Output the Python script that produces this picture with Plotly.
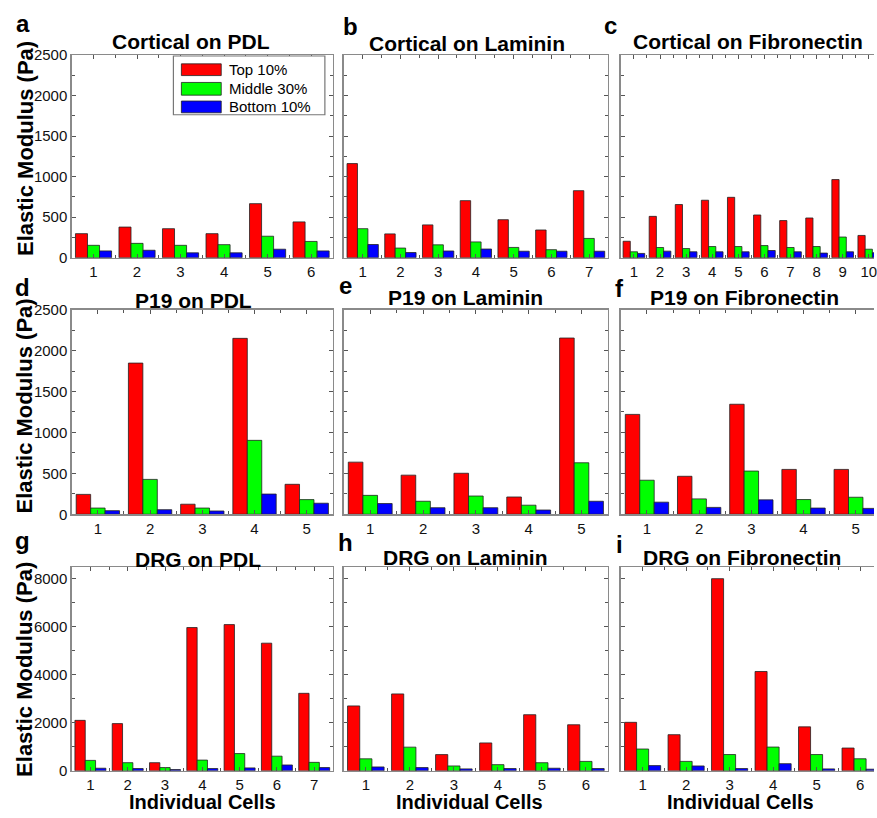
import plotly.graph_objects as go

W, H = 877, 818

# ---------------- data ----------------
series_names = ["Top 10%", "Middle 30%", "Bottom 10%"]
series_colors = ["#FF0000", "#00FF00", "#0000FF"]

panel_titles = ["Cortical on PDL", "Cortical on Laminin", "Cortical on Fibronectin",
                "P19 on PDL", "P19 on Laminin", "P19 on Fibronectin",
                "DRG on PDL", "DRG on Laminin", "DRG on Fibronectin"]
panel_letters = ["a", "b", "c", "d", "e", "f", "g", "h", "i"]

cort_pdl_top = [297, 378, 358, 297, 667, 442]
cort_pdl_mid = [153, 177, 153, 161, 265, 201]
cort_pdl_bot = [84, 92, 60, 60, 105, 84]

cort_lam_top = [1161, 294, 405, 704, 469, 342, 827]
cort_lam_mid = [358, 119, 159, 195, 127, 99, 238]
cort_lam_bot = [163, 64, 83, 107, 80, 80, 80]

cort_fib_top = [203, 510, 656, 709, 745, 527, 458, 490, 964, 275]
cort_fib_mid = [73, 126, 113, 138, 138, 150, 126, 138, 255, 105]
cort_fib_bot = [53, 81, 73, 73, 73, 89, 73, 57, 73, 61]

p19_pdl_top = [243, 1847, 123, 2149, 366]
p19_pdl_mid = [76, 426, 76, 903, 179]
p19_pdl_bot = [44, 56, 40, 247, 135]

p19_lam_top = [637, 478, 501, 211, 2153]
p19_lam_mid = [231, 159, 223, 111, 629]
p19_lam_bot = [131, 80, 80, 52, 159]

p19_fib_top = [1220, 464, 1344, 548, 548]
p19_fib_mid = [416, 188, 528, 180, 208]
p19_fib_bot = [148, 84, 176, 76, 72]

drg_pdl_top = [2102, 1966, 339, 5966, 6088, 5315, 3227]
drg_pdl_mid = [434, 339, 136, 447, 719, 610, 353]
drg_pdl_bot = [108, 95, 54, 95, 122, 244, 136]

drg_lam_top = [2702, 3202, 676, 1162, 2337, 1918]
drg_lam_mid = [500, 986, 203, 257, 338, 392]
drg_lam_bot = [162, 135, 81, 95, 108, 95]

drg_fib_top = [2020, 1505, 8000, 4136, 1831, 949]
drg_fib_mid = [908, 393, 678, 990, 678, 502]
drg_fib_bot = [217, 203, 95, 298, 81, 68]

panels = [
    (cort_pdl_top, cort_pdl_mid, cort_pdl_bot),
    (cort_lam_top, cort_lam_mid, cort_lam_bot),
    (cort_fib_top, cort_fib_mid, cort_fib_bot),
    (p19_pdl_top, p19_pdl_mid, p19_pdl_bot),
    (p19_lam_top, p19_lam_mid, p19_lam_bot),
    (p19_fib_top, p19_fib_mid, p19_fib_bot),
    (drg_pdl_top, drg_pdl_mid, drg_pdl_bot),
    (drg_lam_top, drg_lam_mid, drg_lam_bot),
    (drg_fib_top, drg_fib_mid, drg_fib_bot),
]

y_title = "Elastic Modulus (Pa)"
x_title = "Individual Cells"

# ---------------- layout geometry (pixels) ----------------
cols_px = [(72, 334), (345, 610), (623, 877)]
rows_px = [(47, 254), (307, 516), (570, 778)]
row_ymax = [2500, 2500, 8480]
row_dtick = [500, 500, 2000]
# right column is cut off by the picture edge: visible end of x range
cut_xmax = {2: 10.2, 5: 5.35, 8: 6.32}

FONT = "Liberation Sans, Arial, sans-serif"
AXC = "#8a8a8a"


def px(x):
    return x / W


def py(y):
    return 1 - y / H


fig = go.Figure()
layout = dict(
    width=W, height=H, autosize=False,
    margin=dict(l=0, r=0, t=0, b=0, pad=0),
    paper_bgcolor="white", plot_bgcolor="white",
    barmode="group", bargap=0.17, bargroupgap=0,
    showlegend=False,
    font=dict(family=FONT, color="black"),
)

annotations = []
shapes = []

for k, vals in enumerate(panels):
    r, c = divmod(k, 3)
    n = len(vals[0])
    idx = k + 1
    xa = "x" if idx == 1 else f"x{idx}"
    ya = "y" if idx == 1 else f"y{idx}"
    cats = list(range(1, n + 1))
    for s in range(3):
        fig.add_trace(go.Bar(
            x=cats, y=vals[s], name=series_names[s],
            marker=dict(color=series_colors[s], line=dict(color="#222222", width=0.8)),
            xaxis=xa, yaxis=ya, showlegend=False, hoverinfo="skip",
        ))
    l, rr = cols_px[c]
    t, b = rows_px[r]
    xr = [0.5, n + 0.5] if c < 2 else [0.5, cut_xmax[k]]
    xkey = "xaxis" if idx == 1 else f"xaxis{idx}"
    ykey = "yaxis" if idx == 1 else f"yaxis{idx}"
    layout[xkey] = dict(
        domain=[px(l), px(rr)], anchor=ya, range=xr, autorange=False,
        showline=True, linecolor=AXC, linewidth=1.5, mirror="ticks",
        ticks="inside", ticklen=4, tickcolor="#555555", tickwidth=1,
        tickmode="array", tickvals=cats, ticktext=[str(v) for v in cats],
        tickfont=dict(size=15, color="#111111", family=FONT),
        ticklabeloverflow="allow",
        showgrid=False, zeroline=False, fixedrange=True,
        minor=dict(tickmode="array", tickvals=[v + 0.5 for v in cats[:-1]],
                   ticks="inside", ticklen=3, tickcolor="#555555", showgrid=False),
    )
    layout[ykey] = dict(
        domain=[py(b), py(t)], anchor=xa, range=[0, row_ymax[r]], autorange=False,
        showline=True, linecolor=AXC, linewidth=1.5,
        mirror=("ticks" if c < 2 else False),
        ticks="inside", ticklen=4, tickcolor="#555555", tickwidth=1,
        dtick=row_dtick[r], tick0=0,
        showticklabels=(c == 0),
        tickfont=dict(size=15, color="#111111", family=FONT),
        showgrid=False, zeroline=False, fixedrange=True,
        minor=dict(dtick=row_dtick[r] / 2, ticks="inside", ticklen=3,
                   tickcolor="#555555", showgrid=False),
    )

# panel titles
title_pos = [(192, 33), (469, 35), (751, 33),
             (194, 298), (467, 295), (747, 295),
             (199, 562), (467, 560), (745, 560)]
for k, (tx, ty) in enumerate(title_pos):
    annotations.append(dict(
        text=f"<b>{panel_titles[k]}</b>", x=px(tx), y=py(ty), xref="paper", yref="paper",
        xanchor="center", yanchor="middle", showarrow=False,
        font=dict(size=21, family=FONT, color="black")))

# panel letters
letter_pos = [(23, 15), (352, 18), (613, 17),
              (23, 284), (347, 282), (622, 285),
              (23, 543), (347, 545), (622, 547)]
for k, (tx, ty) in enumerate(letter_pos):
    annotations.append(dict(
        text=f"<b>{panel_letters[k]}</b>", x=px(tx), y=py(ty), xref="paper", yref="paper",
        xanchor="center", yanchor="middle", showarrow=False,
        font=dict(size=24, family=FONT, color="black")))

# y titles
for cy in [142, 405, 674]:
    annotations.append(dict(
        text=f"<b>{y_title}</b>", x=px(25), y=py(cy), xref="paper", yref="paper",
        xanchor="center", yanchor="middle", showarrow=False, textangle=-90,
        font=dict(size=22, family=FONT, color="black")))

# x titles
for cx in [203, 471, 743]:
    annotations.append(dict(
        text=f"<b>{x_title}</b>", x=px(cx), y=py(810), xref="paper", yref="paper",
        xanchor="center", yanchor="middle", showarrow=False,
        font=dict(size=20, family=FONT, color="black")))

# legend (panel a)
shapes.append(dict(type="rect", xref="paper", yref="paper",
                   x0=px(174), x1=px(326), y0=py(108), y1=py(48),
                   line=dict(color="#777777", width=1.2), fillcolor="white", layer="above"))
sw_y = [(56, 68), (75, 88), (94, 106)]
for s in range(3):
    y0, y1 = sw_y[s]
    shapes.append(dict(type="rect", xref="paper", yref="paper",
                       x0=px(182), x1=px(222), y0=py(y1), y1=py(y0),
                       line=dict(color="#222222", width=0.8),
                       fillcolor=series_colors[s], layer="above"))
    annotations.append(dict(
        text=series_names[s], x=px(228), y=py((y0 + y1) / 2), xref="paper", yref="paper",
        xanchor="left", yanchor="middle", showarrow=False,
        font=dict(size=15, family=FONT, color="black")))

layout["annotations"] = annotations
layout["shapes"] = shapes
fig.update_layout(**layout)

fig.write_html(
    "out.html",
    config={"displayModeBar": False, "staticPlot": True},
    post_script=("document.documentElement.style.margin='0px';"
                 "document.documentElement.style.padding='0px';"
                 "document.documentElement.style.overflow='hidden';"
                 "document.body.style.margin='0px';"
                 "document.body.style.padding='0px';"
                 "document.body.style.overflow='hidden';"),
)
